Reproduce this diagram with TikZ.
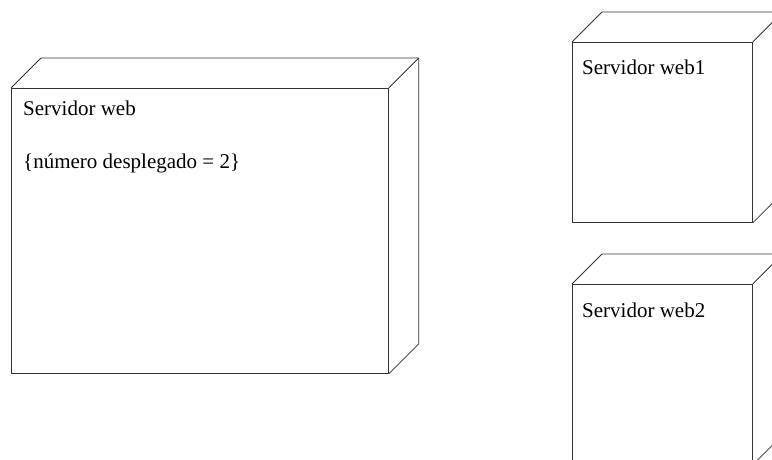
\documentclass[tikz,border=0pt]{standalone}
\usepackage{fontspec}
\setmainfont{Liberation Serif}
\usetikzlibrary{calc,positioning}

\begin{document}
\begin{tikzpicture}[x=1pt,y=-1pt, font=\fontsize{21}{25}\selectfont,
    nodo/.style={draw=black!80, line width=0.8pt, rectangle, inner sep=0pt,
      anchor=north west},
    lado/.style={draw=black!80, line width=0.8pt, line join=miter},
    etiqueta/.style={anchor=base west, inner sep=0pt}]
    \useasboundingbox (0,0) rectangle (772,460);
    \clip (0,0) rectangle (772,460);
    % Nodes (front faces)
    \node[nodo, minimum width=377pt, minimum height=285pt] (web) at (11,88) {};
    \node[nodo, minimum width=180pt, minimum height=180pt] (web1) at (572,42) {};
    \node[nodo, minimum width=180pt, minimum height=180pt] (web2) at (572,284) {};
    % Depth of each node
    \foreach \n in {web,web1,web2}{
      \draw[lado] (\n.north west) -- ++(30,-30) -| ($(\n.south east)+(30,-30)$)
        -- (\n.south east);
      \draw[lado] (\n.north east) -- ++(30,-30);
    }
    % Labels
    \node[etiqueta] (lweb) at ($(web.north west)+(12,27)$) {Servidor web};
    \node[etiqueta] (lnum) at ($(web.north west)+(12,80)$)
      {\{número desplegado = 2\}};
    \node[etiqueta] (lweb1) at ($(web1.north west)+(10,33)$) {Servidor web1};
    \node[etiqueta] (lweb2) at ($(web2.north west)+(10,33)$) {Servidor web2};
\end{tikzpicture}
\end{document}
